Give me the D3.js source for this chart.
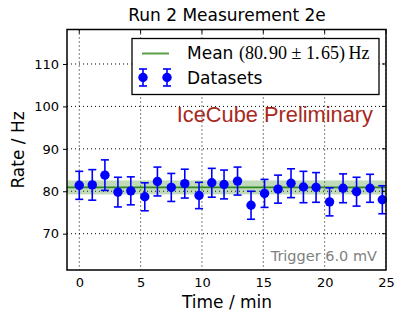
<!DOCTYPE html>
<html><head><meta charset="utf-8">
<script src="https://cdn.jsdelivr.net/npm/d3@7"></script>
<style>body{margin:0;background:#fff}svg{display:block}</style>
</head><body><svg id="c" width="406" height="324" font-family="DejaVu Sans"></svg>
<script>
const times = [0,1.06,2.09,3.15,4.2,5.34,6.37,7.5,8.6,9.76,10.8,11.8,12.9,14.0,15.1,16.2,17.26,18.27,19.3,20.4,21.5,22.6,23.7,24.7];
const rates = [81.4,81.5,83.8,79.8,80.1,78.7,82.3,80.9,81.8,79.0,82.0,81.6,82.4,76.7,79.5,80.5,81.9,81.0,80.9,77.5,80.7,79.9,80.7,78.0];
const errors = [3.3,3.6,3.6,3.5,3.3,3.3,3.4,3.3,3.4,3.1,3.4,3.4,3.3,3.3,3.3,3.3,3.4,3.7,3.5,3.3,3.4,3.4,3.3,3.3];
const meanRate = 80.90, meanErr = 1.65;
const xTicks = [0,5,10,15,20,25];
const yTicks = [70,80,90,100,110];

const svg = d3.select("#c");
const L=67,R=386,T=29.5,B=270;
const x = d3.scaleLinear().domain([-1,25]).range([L,R]);
const y = d3.scaleLinear().domain([61.44,118.13]).range([B,T]);

const g = svg.append("g");
xTicks.forEach(t=>g.append("line").attr("x1",x(t)).attr("x2",x(t)).attr("y1",T).attr("y2",B).attr("stroke","#000").attr("stroke-width",1).attr("stroke-dasharray","1,3"));
yTicks.forEach(t=>g.append("line").attr("x1",L).attr("x2",R).attr("y1",y(t)).attr("y2",y(t)).attr("stroke","#000").attr("stroke-width",1).attr("stroke-dasharray","1,3"));

svg.append("rect").attr("x",L).attr("width",R-L).attr("y",y(meanRate+meanErr)).attr("height",y(meanRate-meanErr)-y(meanRate+meanErr)).attr("fill","rgba(60,140,40,0.32)");
svg.append("line").attr("x1",L).attr("x2",R).attr("y1",y(meanRate)).attr("y2",y(meanRate)).attr("stroke","#2f8a20").attr("stroke-width",1.8);

const pts = svg.append("g");
times.forEach((t,i)=>{
  const cx=x(t), y1=y(rates[i]+errors[i]), y2=y(rates[i]-errors[i]);
  pts.append("line").attr("x1",cx).attr("x2",cx).attr("y1",y1).attr("y2",y2).attr("stroke","#0000ff").attr("stroke-width",1.6);
  [y1,y2].forEach(yy=>pts.append("line").attr("x1",cx-4).attr("x2",cx+4).attr("y1",yy).attr("y2",yy).attr("stroke","#0000ff").attr("stroke-width",1.6));
  pts.append("circle").attr("cx",cx).attr("cy",y(rates[i])).attr("r",4.7).attr("fill","#0000ff");
});

const ax = d3.axisBottom(x).tickValues(xTicks).tickSize(0).tickPadding(8);
svg.append("g").attr("transform",`translate(0,${B})`).call(ax).call(s=>{s.select(".domain").remove();s.selectAll("text").attr("font-size",13).attr("font-family","DejaVu Sans").attr("fill","#000");});
const ay = d3.axisLeft(y).tickValues(yTicks).tickSize(4).tickPadding(4);
svg.append("g").attr("transform",`translate(${L},0)`).call(ay).call(s=>{s.select(".domain").remove();s.selectAll("text").attr("font-size",13).attr("font-family","DejaVu Sans").attr("fill","#000");s.selectAll("line").attr("stroke-width",1);});
xTicks.forEach(t=>svg.append("line").attr("x1",x(t)).attr("x2",x(t)).attr("y1",T).attr("y2",T+4).attr("stroke","#000"));
yTicks.forEach(t=>svg.append("line").attr("x1",R).attr("x2",R-4).attr("y1",y(t)).attr("y2",y(t)).attr("stroke","#000"));
svg.append("rect").attr("x",L).attr("y",T).attr("width",R-L).attr("height",B-T).attr("fill","none").attr("stroke","#000").attr("stroke-width",1.5);

svg.append("text").attr("x",227).attr("y",21).attr("text-anchor","middle").attr("font-size",17).text("Run 2 Measurement 2e");
svg.append("text").attr("x",227).attr("y",308).attr("text-anchor","middle").attr("font-size",17).text("Time / min");
svg.append("text").attr("transform","translate(24,150) rotate(-90)").attr("text-anchor","middle").attr("font-size",17).text("Rate / Hz");
svg.append("text").attr("x",373).attr("y",122).attr("text-anchor","end").attr("font-family","Liberation Sans").attr("font-size",21.8).attr("fill","#a8291c").text("IceCube Preliminary");
svg.append("text").attr("x",377).attr("y",261).attr("text-anchor","end").attr("font-size",14.5).attr("fill","#808080").text("Trigger 6.0 mV");

const lg = svg.append("g");
lg.append("rect").attr("x",132).attr("y",38.5).attr("width",247).attr("height",56).attr("fill","#fff").attr("stroke","#000").attr("stroke-width",1.3);
lg.append("line").attr("x1",142).attr("x2",169).attr("y1",53.5).attr("y2",53.5).attr("stroke","#5c9f48").attr("stroke-width",2);
lg.append("text").attr("x",187).attr("y",59).attr("font-size",17).text("Mean");
lg.append("text").attr("x",239).attr("y",59).attr("font-family","Liberation Serif").attr("font-size",18).text("(80.\u200A90 ± 1.\u200A65)\u2009Hz");
[143,167].forEach(cx=>{
  lg.append("line").attr("x1",cx).attr("x2",cx).attr("y1",69).attr("y2",86).attr("stroke","#0000ff").attr("stroke-width",1.6);
  [69,86].forEach(yy=>lg.append("line").attr("x1",cx-4).attr("x2",cx+4).attr("y1",yy).attr("y2",yy).attr("stroke","#0000ff").attr("stroke-width",1.6));
  lg.append("circle").attr("cx",cx).attr("cy",77.5).attr("r",4.7).attr("fill","#0000ff");
});
lg.append("text").attr("x",187).attr("y",84).attr("font-size",17).text("Datasets");
</script></body></html>
